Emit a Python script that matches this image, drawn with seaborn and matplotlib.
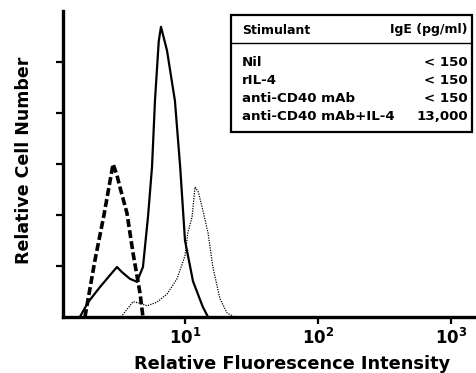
import matplotlib
matplotlib.use("Agg")
import matplotlib.pyplot as plt
import seaborn as sns
import pandas as pd
from matplotlib.patches import Rectangle
from matplotlib.lines import Line2D

# ---- data ----
dashed_x = [1.77, 2.10, 2.46, 2.88, 3.08, 3.24, 3.66, 4.07, 4.59, 4.83]
dashed_y = [0.0, 1.10, 2.00, 3.00, 2.78, 2.55, 2.04, 1.25, 0.47, 0.0]

solid_x = [1.62, 1.87, 2.30, 2.73, 3.08, 3.36, 3.85, 4.35, 4.83, 5.27, 5.65,
           5.95, 6.35, 6.60, 7.33, 8.40, 9.20, 10.0, 11.49, 13.6, 14.9]
solid_y = [0.0, 0.29, 0.59, 0.82, 0.98, 0.88, 0.75, 0.69, 0.98, 1.96, 2.94,
           4.25, 5.41, 5.69, 5.22, 4.24, 2.94, 1.50, 0.70, 0.20, 0.0]

dotted_x = [3.30, 4.07, 4.59, 5.18, 6.15, 7.33, 8.71, 10.0, 10.5, 11.3, 11.9,
            12.6, 13.6, 14.9, 16.2, 18.3, 20.7, 23.5]
dotted_y = [0.0, 0.30, 0.27, 0.22, 0.29, 0.45, 0.75, 1.20, 1.65, 1.96, 2.55,
            2.45, 2.10, 1.65, 0.98, 0.36, 0.08, 0.0]

x_ticks = [10, 100, 1000]
x_tick_labels = [r"$\mathbf{10^1}$", r"$\mathbf{10^2}$", r"$\mathbf{10^3}$"]
y_ticks = [1, 2, 3, 4, 5]

table_header = ["Stimulant", "IgE (pg/ml)"]
table_stimulants = ["Nil", "rIL-4", "anti-CD40 mAb", "anti-CD40 mAb+IL-4"]
table_ige = ["< 150", "< 150", "< 150", "13,000"]

# ---- plotting ----
sns.set_style("white")
plt.rcParams["font.family"] = ["DejaVu Sans"]
plt.rcParams["font.weight"] = "bold"
plt.rcParams["text.color"] = "black"
plt.rcParams["axes.labelcolor"] = "black"
plt.rcParams["xtick.color"] = "black"
plt.rcParams["ytick.color"] = "black"

fig = plt.figure(figsize=(4.77, 3.73), dpi=100)
ax = fig.add_axes([63 / 477, 56 / 373, (477 - 63) / 477, 306 / 373])

df_d = pd.DataFrame({"x": dashed_x, "y": dashed_y})
df_s = pd.DataFrame({"x": solid_x, "y": solid_y})
df_t = pd.DataFrame({"x": dotted_x, "y": dotted_y})

sns.lineplot(data=df_s, x="x", y="y", ax=ax, sort=False, estimator=None,
             color="black", lw=1.6)
sns.lineplot(data=df_d, x="x", y="y", ax=ax, sort=False, estimator=None,
             color="black", lw=2.6, linestyle=(0, (2.2, 0.9)))
sns.lineplot(data=df_t, x="x", y="y", ax=ax, sort=False, estimator=None,
             color="black", lw=0.9, linestyle=(0, (1, 1.0)))

ax.set_xscale("log")
ax.set_xlim(10 ** 0.083, 10 ** 3.195)
ax.set_ylim(0, 6.0)
ax.set_xticks(x_ticks)
ax.set_xticklabels(x_tick_labels, fontsize=12)
ax.minorticks_off()
ax.set_yticks(y_ticks)
ax.set_yticklabels([])
ax.tick_params(axis="both", direction="out", length=5, width=1.6, color="black",
               bottom=True, left=True, pad=3)

for s in ["top", "right"]:
    ax.spines[s].set_visible(False)
for s in ["left", "bottom"]:
    ax.spines[s].set_linewidth(2.4)
    ax.spines[s].set_color("black")

ax.set_xlabel("")
ax.set_ylabel("")

W, H = 477, 373
def fx(px):
    return px / W
def fy(py):
    return 1 - py / H

fig.text(fx(292), fy(364), "Relative Fluorescence Intensity", ha="center",
         va="center", fontsize=12.8, fontweight="bold")
fig.text(fx(24), fy(160), "Relative Cell Number", ha="center", va="center",
         rotation=90, fontsize=12.5, fontweight="bold")

# ---- table inset (figure pixel coords) ----
fig.patches.append(Rectangle((fx(231), fy(132)), fx(472) - fx(231), fy(15) - fy(132),
                             transform=fig.transFigure, fill=False,
                             edgecolor="black", lw=1.6))
fig.lines.append(Line2D([fx(231), fx(472)], [fy(43), fy(43)],
                        transform=fig.transFigure, color="black", lw=1.0))
fs = 9.6
fig.text(fx(242), fy(31), table_header[0], ha="left", va="center", fontsize=9.0,
         fontweight="bold")
fig.text(fx(468), fy(30), table_header[1], ha="right", va="center", fontsize=9.0,
         fontweight="bold")
row_y = [63, 81, 99, 117]
for name, val, yy in zip(table_stimulants, table_ige, row_y):
    fig.text(fx(242), fy(yy), name, ha="left", va="center", fontsize=fs,
             fontweight="bold")
    fig.text(fx(468), fy(yy), val, ha="right", va="center", fontsize=fs,
             fontweight="bold")

fig.savefig("out.png", dpi=100)
